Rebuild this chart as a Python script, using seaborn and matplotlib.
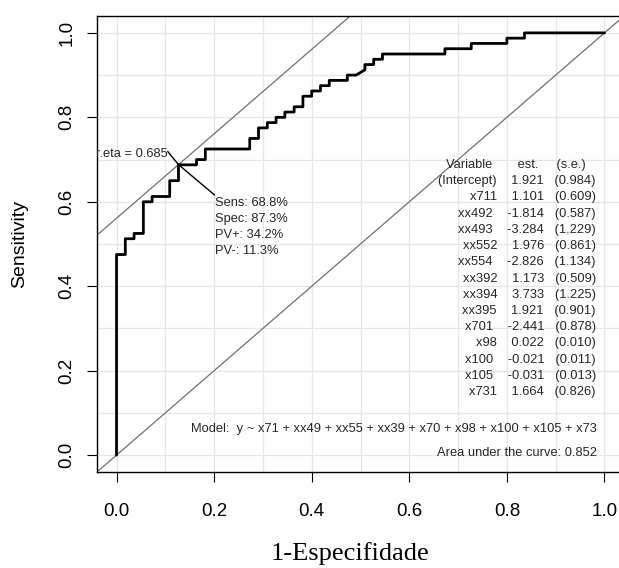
import numpy as np
import pandas as pd
import matplotlib
matplotlib.use("Agg")
import matplotlib.pyplot as plt
import seaborn as sns
from matplotlib.ticker import MultipleLocator, FormatStrFormatter

# ROC curve vertices (1 - specificity, sensitivity)
fpr = [0.0, 0.0, 0.018, 0.018, 0.036, 0.036, 0.055, 0.055, 0.073, 0.073,
       0.109, 0.109, 0.127, 0.127, 0.164, 0.164, 0.182, 0.182, 0.273, 0.273,
       0.291, 0.291, 0.309, 0.309, 0.327, 0.327, 0.345, 0.345, 0.364, 0.364,
       0.382, 0.382, 0.400, 0.400, 0.418, 0.418, 0.436, 0.436, 0.473, 0.473,
       0.491, 0.509, 0.509, 0.527, 0.527, 0.545, 0.545, 0.673, 0.673, 0.727,
       0.727, 0.800, 0.800, 0.836, 0.836, 1.0]
tpr = [0.0, 0.475, 0.475, 0.5125, 0.5125, 0.525, 0.525, 0.600, 0.600, 0.6125,
       0.6125, 0.650, 0.650, 0.6875, 0.6875, 0.700, 0.700, 0.725, 0.725, 0.750,
       0.750, 0.775, 0.775, 0.7875, 0.7875, 0.800, 0.800, 0.8125, 0.8125, 0.825,
       0.825, 0.850, 0.850, 0.8625, 0.8625, 0.875, 0.875, 0.8875, 0.8875, 0.900,
       0.900, 0.9125, 0.925, 0.925, 0.9375, 0.9375, 0.950, 0.950, 0.9625, 0.9625,
       0.975, 0.975, 0.9875, 0.9875, 1.0, 1.0]

opt_fpr, opt_tpr = 0.127, 0.688
eta_label = "lr.eta = 0.685"
opt_stats = ["Sens: 68.8%", "Spec: 87.3%", "PV+: 34.2%", "PV-: 11.3%"]

variables = ["(Intercept)", "x711", "xx492", "xx493", "xx552", "xx554", "xx392",
             "xx394", "xx395", "x701", "x98", "x100", "x105", "x731"]
estimates = [1.921, 1.101, -1.814, -3.284, 1.976, -2.826, 1.173,
             3.733, 1.921, -2.441, 0.022, -0.021, -0.031, 1.664]
std_errors = [0.984, 0.609, 0.587, 1.229, 0.861, 1.134, 0.509,
              1.225, 0.901, 0.878, 0.010, 0.011, 0.013, 0.826]
model_formula = "y ~ x71 + xx49 + xx55 + xx39 + x70 + x98 + x100 + x105 + x73"
auc = 0.852

x_label = "1-Especifidade"
y_label = "Sensitivity"

sns.set_theme(style="white")
plt.rcParams["font.family"] = ["Liberation Sans", "DejaVu Sans"]

fig = plt.figure(figsize=(6.19, 5.68), dpi=100)
ax = fig.add_axes([97 / 619, 96 / 568, 527 / 619, 456 / 568])
ax.set_xlim(-0.04, 1.04)
ax.set_ylim(-0.04, 1.04)

# grid every 0.1
ax.xaxis.set_major_locator(MultipleLocator(0.2))
ax.yaxis.set_major_locator(MultipleLocator(0.2))
ax.xaxis.set_minor_locator(MultipleLocator(0.1))
ax.yaxis.set_minor_locator(MultipleLocator(0.1))
ax.grid(True, which="both", color="#e6e6e6", linewidth=0.9)
ax.set_axisbelow(True)

# diagonals
ax.axline((0, 0), slope=1, color="#707070", linewidth=0.9, zorder=2)
ax.axline((opt_fpr, opt_tpr), slope=1, color="#707070", linewidth=0.9, zorder=2)

df = pd.DataFrame({"fpr": fpr, "tpr": tpr})
sns.lineplot(data=df, x="fpr", y="tpr", sort=False, estimator=None,
             color="black", linewidth=2.0, ax=ax, zorder=3)

# optimal point annotation
ax.plot([opt_fpr - 0.022, opt_fpr, opt_fpr + 0.074],
        [opt_tpr + 0.031, opt_tpr, opt_tpr - 0.072],
        color="black", linewidth=1.0, zorder=3)
ax.text(opt_fpr - 0.0225, opt_tpr + 0.025, eta_label, ha="right", va="center",
        fontsize=9.25, clip_on=True)
for i, s in enumerate(opt_stats):
    ax.text(opt_fpr + 0.074, opt_tpr - 0.090 - i * 0.0384, s, ha="left",
            va="center", fontsize=9.25)

# coefficient table
x_right = 0.9826
y_top = 0.687
dy = 0.0384
ax.text(0.9614, y_top, "Variable       est.     (s.e.)", ha="right", va="center",
        fontsize=9.25)
for i, (v, e, se) in enumerate(zip(variables, estimates, std_errors)):
    line = f"{v}    {e:.3f}   ({se:.3f})"
    ax.text(x_right, y_top - (i + 1) * dy, line, ha="right", va="center",
            fontsize=9.25)

ax.text(0.984, 0.063, f"Model:  {model_formula}", ha="right", va="center",
        fontsize=9.25)
ax.text(0.984, 0.0055, f"Area under the curve: {auc:.3f}", ha="right",
        va="center", fontsize=9.25)

# axes styling
for sp in ax.spines.values():
    sp.set_color("black")
    sp.set_linewidth(1.0)
ax.xaxis.set_major_formatter(FormatStrFormatter("%.1f"))
ax.yaxis.set_major_formatter(FormatStrFormatter("%.1f"))
ax.tick_params(which="major", direction="out", length=7.5, width=0.8,
               color="black", bottom=True, left=True, labelsize=13.5,
               labelcolor="black")
ax.tick_params(which="minor", length=0)
ax.tick_params(axis="x", pad=15)
ax.tick_params(axis="y", pad=8, labelrotation=90)
for tl in ax.get_yticklabels():
    tl.set_va("center")

ax.set_xlabel(x_label, fontsize=19, family=["Liberation Serif", "DejaVu Serif"],
              color="black")
ax.xaxis.set_label_coords(0.48, -0.178)
ax.xaxis.label.set_va("center")
ax.set_ylabel(y_label, fontsize=14, color="black")
ax.yaxis.set_label_coords(-0.146, 0.5)
ax.yaxis.label.set_va("center")

fig.savefig("out.png", dpi=100)
